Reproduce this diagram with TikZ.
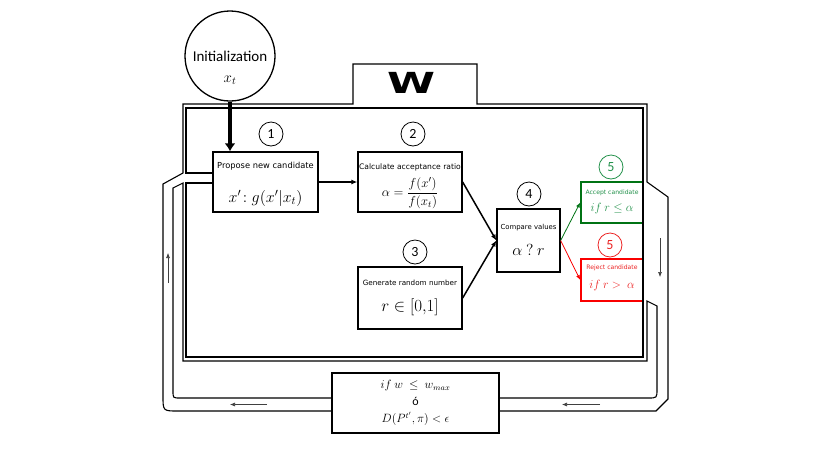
\RequirePackage{fix-cm}
\documentclass[tikz,border=0pt]{standalone}
\usepackage{amsmath,amsfonts}
\usepackage[no-math]{fontspec}
\setmainfont{Carlito}
\newfontfamily\smallsans{DejaVu Sans}
\usepackage{graphicx}
\usepackage{tikz}
\usetikzlibrary{positioning}
\usetikzlibrary{calc,arrows.meta}
\definecolor{okgreen}{RGB}{0,115,20}
\definecolor{okgreentext}{RGB}{35,145,75}
\definecolor{nored}{RGB}{250,0,0}
\definecolor{noredtext}{RGB}{235,35,35}

\begin{document}
\begin{tikzpicture}
	[   x=1pt,y=-1pt,
	    mcbox/.style={draw=#1,line width=1.3pt,inner sep=0pt},
	    mcbox/.default=black,
	    boxtitle/.style={font=\smallsans\fontsize{#1}{#1}\selectfont},
	    boxformula/.style={font=\fontsize{#1}{#1}\selectfont},
	    numnode/.style={draw=#1,text=#1,circle,line width=0.8pt,minimum size=24pt,inner sep=0pt,font=\fontsize{14}{14}\selectfont},
	    numnode/.default=black,
	    pipe/.style={line width=1.1pt},
	    wall/.style={line width=1.7pt},
	]
	\tikzset{normal arrow/.style={draw,line width=1.5pt,-{Latex[length=6pt,width=5pt]}}}
	\tikzset{flow arrow/.style={draw,line width=0.6pt,black!75,-{Latex[length=5pt,width=4pt]}}}
	\useasboundingbox (0,0) rectangle (830,467);
	
	\node[circle,draw,line width=1.3pt,minimum size=90pt,inner sep=0pt,font=\fontsize{15}{15}\selectfont,
	      label={[font=\fontsize{15}{15}\selectfont,yshift=-24pt]center:{$x_t$}}] (init) at (230,56) {Initialization};
	\node[font=\smallsans\bfseries\fontsize{29}{29}\selectfont] (wlabel) at (411,83) {\scalebox{1.5}[1]{W}};
	
	\node[mcbox,minimum width=105pt,minimum height=60pt,
	      label={[boxtitle=8.3,yshift=16pt]center:{Propose new candidate}},
	      label={[boxformula=16,yshift=-16pt]center:{$x'\!:g(x'|x_t)$}}] (propose) at (265.5,182) {};
	\node[mcbox,minimum width=104pt,minimum height=60pt,
	      label={[boxtitle=7.6,yshift=15pt]center:{Calculate acceptance ratio}},
	      label={[boxformula=13,yshift=-11pt]center:{$\alpha=\dfrac{f(x')}{f(x_t)}$}}] (ratio) at (410,182) {};
	\node[mcbox,minimum width=104pt,minimum height=62pt,
	      label={[boxtitle=7.2,yshift=15pt]center:{Generate random number}},
	      label={[boxformula=17,yshift=-9pt]center:{$r\in[0{,}1]$}}] (random) at (410,298) {};
	\node[mcbox,minimum width=63pt,minimum height=63pt,
	      label={[boxtitle=6.9,yshift=12.5pt]center:{Compare values}},
	      label={[boxformula=16,yshift=-9.5pt]center:{$\alpha\ ?\ r$}}] (compare) at (528.5,240.5) {};
	\node[mcbox=okgreen,line width=1.6pt,minimum width=62pt,minimum height=41pt,
	      label={[boxtitle=6.1,text=okgreentext,yshift=9.5pt]center:{Accept candidate}},
	      label={[boxformula=12,text=okgreentext,yshift=-5.5pt]center:{$if\ r\le\alpha$}}] (accept) at (612,202.5) {};
	\node[mcbox=nored,line width=1.6pt,minimum width=62pt,minimum height=42pt,
	      label={[boxtitle=6.1,text=noredtext,yshift=12pt]center:{Reject candidate}},
	      label={[boxformula=12,text=noredtext,yshift=-5pt]center:{$if\ r>\ \alpha$}}] (reject) at (612,280) {};
	\node[mcbox,minimum width=167pt,minimum height=60pt,align=center,font=\fontsize{12}{17}\selectfont] (stop) at (415.5,403)
	      {$if\ w\ \le\ w_{max}$\\ ó\\ $D(P^{t'},\pi)<\epsilon$};
	
	\foreach \n/\px/\py in {1/271/134,2/413/134,3/415/252,4/529/194}
	{
		\node[numnode] (num-\n) at (\px,\py) {\n};
	}
	\node[numnode=okgreentext] (num-5a) at (611,167) {5};
	\node[numnode=noredtext] (num-5r) at (610,245) {5};
	
	% W frame and return pipe
	\draw[pipe] (332,411) -- (178,411) .. controls (163,411) .. (163,396) -- (163,184) -- (183,173) -- (183,104)
	            -- (353,104) -- (353,64) -- (477,64) -- (477,104) -- (647,104) -- (647,182) -- (668,197)
	            -- (668,399) -- (656,411) -- (499,411);
	\draw[pipe] (332,398) -- (180,398) .. controls (173,398) .. (173,391) -- (173,188) -- (183,183) -- (183,361)
	            -- (647,361) -- (647,301) -- (657,306) -- (657,389) .. controls (657,398) .. (648,398) -- (499,398);
	\draw[wall] (213,183) -- (186,183) -- (186,357) -- (643,357) -- (643,108) -- (186,108) -- (186,173) -- (213,173);
	
	\draw[line width=4.5pt,-{Latex[length=8pt,width=11pt]}] (init) -- (init |- propose.north);
	\path[normal arrow,line width=1.3pt] (propose) -- (ratio);
	\path[normal arrow] (ratio.east) -- (compare.west);
	\path[normal arrow] (random.east) -- (compare.west);
	\path[draw=okgreen,line width=0.8pt,-{Latex[length=5pt,width=4pt]}] (compare.east) -- (accept.west);
	\path[draw=nored,line width=0.8pt,-{Latex[length=5pt,width=4pt]}] (compare.east) -- (reject.west);
	
	\coordinate (down-a) at (660,238);
	\coordinate (down-b) at (660,277);
	\coordinate (right-a) at (600,404.5);
	\coordinate (right-b) at (562,404.5);
	\coordinate (left-a) at (267,404.5);
	\coordinate (left-b) at (230,404.5);
	\coordinate (up-a) at (168,283);
	\coordinate (up-b) at (168,253);
	\path[flow arrow] (down-a) -- (down-b);
	\path[flow arrow] (right-a) -- (right-b);
	\path[flow arrow] (left-a) -- (left-b);
	\path[flow arrow] (up-a) -- (up-b);
\end{tikzpicture}
\end{document}
